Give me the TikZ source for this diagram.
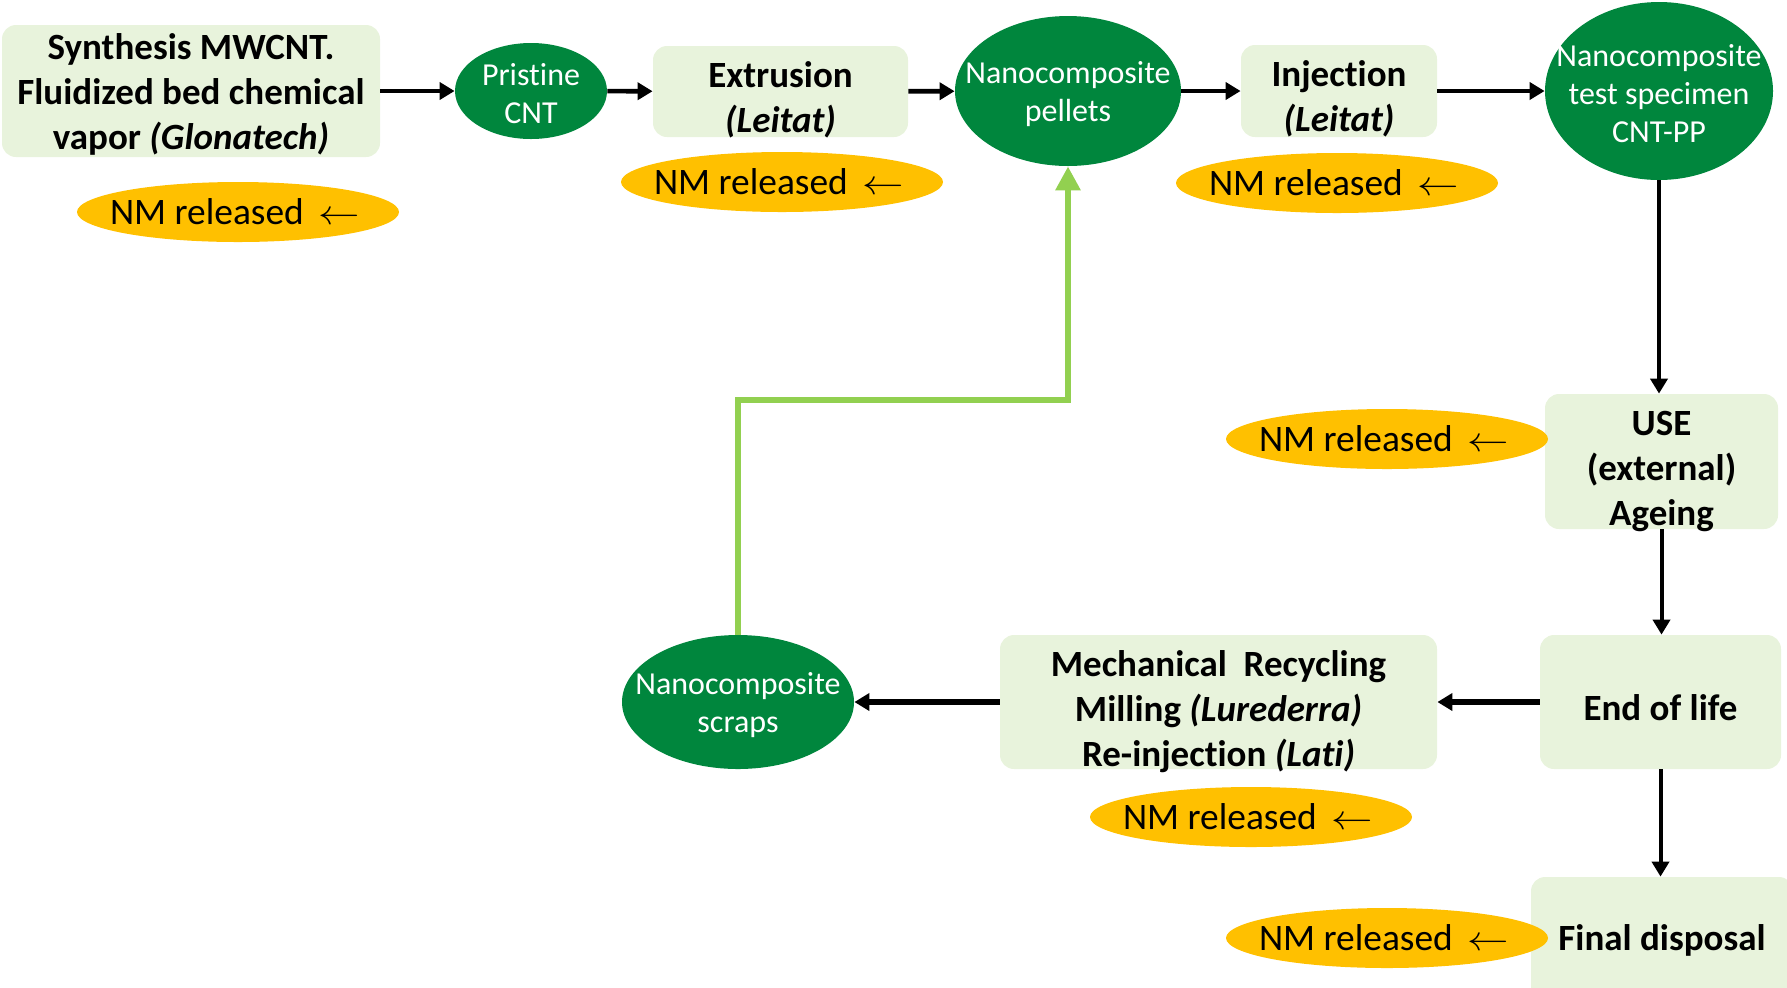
\documentclass[tikz,border=0pt]{standalone}
\usepackage{fontspec}
\setmainfont[Ligatures=NoCommon]{Carlito}
\usetikzlibrary{shapes.geometric,arrows.meta}
\definecolor{boxfill}{HTML}{E8F3DC}
\definecolor{blobfill}{HTML}{00863D}
\definecolor{nmfill}{HTML}{FFC000}
\definecolor{loopgreen}{HTML}{92D050}
\tikzset{
  stage/.style 2 args={rectangle, rounded corners=7pt, fill=boxfill, inner sep=0pt,
    label={[align=center, inner sep=0pt, yshift=#2,
      font=\bfseries\fontsize{18.5}{22.5}\selectfont]center:#1}},
  blob/.style={ellipse, fill=blobfill, inner sep=0pt,
    label={[text=white, align=center, inner sep=0pt, yshift=-1.5pt,
      font=\fontsize{16}{19}\selectfont]center:#1}},
  release/.style={ellipse, fill=nmfill, inner sep=0pt,
    minimum width=161pt, minimum height=30pt,
    label={[inner sep=0pt, xshift=-1.5pt, font=\fontsize{18.7}{21}\selectfont]center:NM released\ \,\scalebox{1.2}[1]{$\leftarrow$}}},
  flow/.style={-{Triangle[length=7.5pt,width=8.5pt]}, line width=2.3pt, black},
  loopback/.style={-{Triangle[length=12pt,width=12pt]}, line width=3pt, loopgreen},
}
\begin{document}
\begin{tikzpicture}[x=0.5pt, y=-0.5pt]
  \clip (0,0) rectangle (1787,987);

  % process stages
  \node[stage={Synthesis MWCNT.\\Fluidized bed chemical\\vapor \textit{(Glonatech)}}{-1.5pt},
    minimum width=189pt, minimum height=66pt] (syn) at (191,91) {};
  \node[stage={Extrusion\\\textit{(Leitat)}}{-4pt},
    minimum width=127.5pt, minimum height=45.5pt] (ext) at (780.5,91.5) {};
  \node[stage={Injection\\\textit{(Leitat)}}{-4pt},
    minimum width=98pt, minimum height=46pt] (inj) at (1339,91) {};
  \node[stage={USE\\(external)\\Ageing}{-5pt},
    minimum width=116.5pt, minimum height=67.5pt] (use) at (1661.5,461.5) {};
  \node[stage={End of life}{-3pt},
    minimum width=120.5pt, minimum height=67pt] (eol) at (1660.5,702) {};
  \node[stage={Mechanical\ \ Recycling\\Milling \textit{(Lurederra)}\\Re-injection \textit{(Lati)}}{-5pt},
    minimum width=218.5pt, minimum height=67pt] (mech) at (1218.5,702) {};
  \node[stage={Final disposal}{0pt},
    minimum width=131pt, minimum height=63pt] (fin) at (1662,940) {};

  % materials
  \node[blob={Pristine\\CNT}, minimum width=76pt, minimum height=48pt] (pri) at (531,91) {};
  \node[blob={Nanocomposite\\pellets}, minimum width=113pt, minimum height=75pt] (pel) at (1068,91) {};
  \node[blob={Nanocomposite\\test specimen\\CNT-PP}, minimum width=114pt, minimum height=89pt] (spec) at (1659,91) {};
  \node[blob={Nanocomposite\\scraps}, minimum width=116pt, minimum height=67pt] (scr) at (738,702) {};

  % release points
  \node[release] (nm1) at (238,212) {};
  \node[release] (nm2) at (782,182) {};
  \node[release] (nm3) at (1337,183) {};
  \node[release] (nm4) at (1387,439) {};
  \node[release] (nm5) at (1251,817) {};
  \node[release] (nm6) at (1387,938) {};

  % main flow
  \draw[flow] (syn) -- (pri);
  \draw[flow] (pri) -- (ext);
  \draw[flow] (ext) -- (pel);
  \draw[flow] (pel) -- (inj);
  \draw[flow] (inj) -- (spec);
  \draw[flow, line width=2pt] (spec.south) -- (spec.south |- use.north);
  \draw[flow, line width=2pt] (use.south) -- (use.south |- eol.north);
  \draw[flow, line width=2pt] (eol.south) -- (eol.south |- fin.north);
  \draw[flow, line width=2.6pt] (eol) -- (mech);
  \draw[flow, line width=2.6pt] (mech) -- (scr);

  % recycling loop
  \coordinate (turn) at (738,400);
  \draw[loopback] (scr.north) -- (turn) -| (pel.south);
\end{tikzpicture}
\end{document}
